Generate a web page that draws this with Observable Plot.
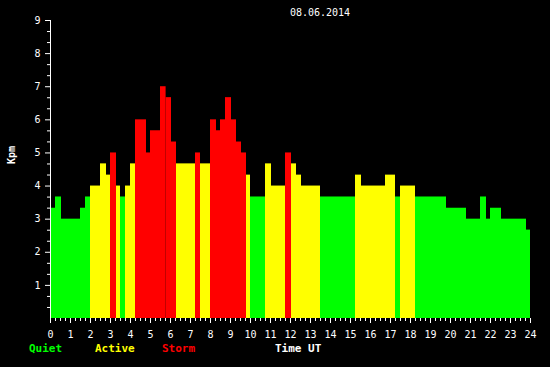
<!DOCTYPE html>
<html>
<head>
<meta charset="utf-8">
<script src="https://cdn.jsdelivr.net/npm/d3@7"></script>
<script src="https://cdn.jsdelivr.net/npm/@observablehq/plot@0.6"></script>
<style>
  html, body { margin: 0; padding: 0; background: #000; }
  #chart { width: 550px; height: 367px; }
</style>
</head>
<body>
<div id="chart"></div>
<script>
// Kpm index, 08.06.2014 — start time (hours UT) of each interval and its value
const startHours = [0, 0.25, 0.55, 1.5, 1.75, 2.0, 2.5, 2.8, 3.0, 3.3, 3.5, 3.75, 4.0, 4.25, 4.8, 5.0,
  5.5, 5.78, 6.05, 6.3, 7.25, 7.5, 8.0, 8.3, 8.5, 8.75, 9.05, 9.3, 9.55, 9.8, 10.0, 10.75, 11.05,
  11.75, 12.05, 12.3, 12.55, 13.5, 15.25, 15.55, 16.75, 17.25, 17.5, 18.25, 19.8, 20.8, 21.5, 21.8,
  22.0, 22.55, 23.8];
const endHour = 24;
const kpmValues = [3.33, 3.67, 3.0, 3.33, 3.67, 4.0, 4.67, 4.33, 5.0, 4.0, 3.67, 4.0, 4.67, 6.0, 5.0, 5.67,
  7.0, 6.67, 5.33, 4.67, 5.0, 4.67, 6.0, 5.67, 6.0, 6.67, 6.0, 5.33, 5.0, 4.33, 3.67, 4.67, 4.0,
  5.0, 4.67, 4.33, 4.0, 3.67, 4.33, 4.0, 4.33, 3.67, 4.0, 3.67, 3.33, 3.0, 3.67, 3.0,
  3.33, 3.0, 2.67];
const hourTicks = d3.range(0, 25);
const quarterTicks = d3.range(0, 96).map(i => i / 4).filter(v => v % 1 !== 0);
const kpTicks = d3.range(1, 10);
const thirdTicks = d3.range(1, 27).map(i => i / 3).filter((v, i) => (i + 1) % 3 !== 0);
const dateLabel = "08.06.2014";
const legendItems = ["Quiet", "Active", "Storm"];
const legendColors = ["#00ff00", "#ffff00", "#ff0000"];

const rows = startHours.map((s, i) => ({
  start: s,
  end: i + 1 < startHours.length ? startHours[i + 1] : endHour,
  kpm: kpmValues[i]
}));
const colorOf = v => v < 4 ? legendColors[0] : v < 5 ? legendColors[1] : legendColors[2];

const font = "'DejaVu Sans Mono', monospace";

const chart = Plot.plot({
  width: 550,
  height: 367,
  marginLeft: 50,
  marginRight: 20,
  marginTop: 20,
  marginBottom: 49,
  style: { background: "#000", color: "#fff", fontFamily: font, fontSize: "10px" },
  x: { domain: [0, 24] },
  y: { domain: [0, 9] },
  color: { type: "identity" },
  marks: [
    Plot.rectY(rows, { x1: "start", x2: "end", y: "kpm", fill: d => colorOf(d.kpm), inset: 0 }),
    Plot.ruleX([0], { stroke: "#fff" }),
    Plot.axisY({ ticks: kpTicks, tickSize: 5, tickPadding: 5, label: null, stroke: "#fff", fill: "#fff" }),
    Plot.axisY({ ticks: thirdTicks, tickSize: 3, tickFormat: () => "", label: null, stroke: "#fff" }),
    Plot.axisX({ ticks: hourTicks, tickSize: 5, tickPadding: 7, label: null, stroke: "#fff", fill: "#fff", tickFormat: d => String(d) }),
    Plot.axisX({ ticks: quarterTicks, tickSize: 3, tickFormat: () => "", label: null, stroke: "#fff" })
  ]
});

const svg = d3.select(chart);
svg.append("text").attr("x", 320).attr("y", 16).attr("text-anchor", "middle")
  .attr("fill", "#fff").style("font", `10px ${font}`).text(dateLabel);
svg.append("text").attr("transform", "translate(15,155) rotate(-90)").attr("text-anchor", "middle")
  .attr("fill", "#fff").style("font", `bold 10px ${font}`).text("Kpm");
const legendX = [29, 95, 162];
legendItems.forEach((t, i) => {
  svg.append("text").attr("x", legendX[i]).attr("y", 352).attr("text-anchor", "start")
    .attr("fill", legendColors[i]).style("font", `bold 11px ${font}`).text(t);
});
svg.append("text").attr("x", 275).attr("y", 352).attr("text-anchor", "start")
  .attr("fill", "#fff").style("font", `bold 11px ${font}`).text("Time UT");

document.getElementById("chart").appendChild(chart);
</script>
</body>
</html>
